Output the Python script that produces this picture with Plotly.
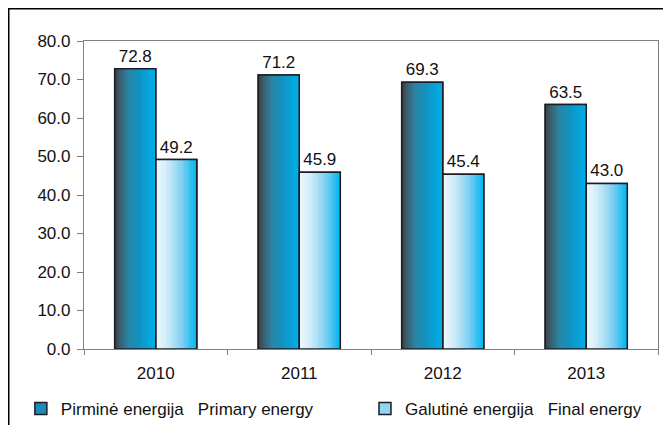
import plotly.graph_objects as go

years = ["2010", "2011", "2012", "2013"]
primary = [72.8, 71.2, 69.3, 63.5]
final = [49.2, 45.9, 45.4, 43.0]
primary_name = "Pirminė energija\u00a0\u00a0\u00a0Primary energy"
final_name = "Galutinė energija\u00a0\u00a0\u00a0Final energy"

BAR_W = 0.286
N = 24
FONT = "Liberation Sans, Arial, Helvetica, sans-serif"

def hex2rgb(h):
    h = h.lstrip("#")
    return tuple(int(h[i:i + 2], 16) for i in (0, 2, 4))

def grad(stops, t):
    for (t0, c0), (t1, c1) in zip(stops, stops[1:]):
        if t0 <= t <= t1:
            f = (t - t0) / (t1 - t0) if t1 > t0 else 0
            a, b = hex2rgb(c0), hex2rgb(c1)
            return "rgb(%d,%d,%d)" % tuple(round(a[k] + (b[k] - a[k]) * f) for k in range(3))
    return stops[-1][1]

prim_stops = [(0.0, "#3a3c40"), (0.15, "#3b6070"), (0.35, "#2a84a4"), (0.6, "#1193c2"), (1.0, "#00aee8")]
fin_stops = [(0.0, "#f2fafe"), (0.3, "#cdebf8"), (0.65, "#7fd0f2"), (1.0, "#00b7ef")]

fig = go.Figure()

# legend / base traces
fig.add_trace(go.Bar(x=years, y=primary, name=primary_name, width=BAR_W, offset=-BAR_W,
                     marker=dict(color="#1a8cb8", line=dict(color="#1c1c24", width=1.5)),
                     showlegend=True, legend="legend", hoverinfo="skip"))
fig.add_trace(go.Bar(x=years, y=final, name=final_name, width=BAR_W, offset=0,
                     marker=dict(color="#8fd6f3", line=dict(color="#1c1c24", width=1.5)),
                     showlegend=True, legend="legend2", hoverinfo="skip"))

sw = BAR_W / N
for vals, stops, base in [(primary, prim_stops, -BAR_W), (final, fin_stops, 0.0)]:
    for i in range(N):
        t = (i + 0.5) / N
        fig.add_trace(go.Bar(x=years, y=vals, width=sw * 1.05, offset=base + i * sw,
                             marker=dict(color=grad(stops, t), line=dict(width=0)),
                             showlegend=False, hoverinfo="skip"))

# outlines + labels
for vals, base in [(primary, -BAR_W), (final, 0.0)]:
    fig.add_trace(go.Bar(x=years, y=vals, width=BAR_W, offset=base,
                         marker=dict(color="rgba(0,0,0,0)", line=dict(color="#1c1c24", width=1.5)),
                         text=["%.1f" % v for v in vals], textposition="outside",
                         textfont=dict(family=FONT, size=17, color="#111"),
                         cliponaxis=False, showlegend=False))

leg_common = dict(orientation="h", xanchor="left", y=-0.195, yanchor="middle",
                  font=dict(family=FONT, size=17, color="#111"), bgcolor="rgba(0,0,0,0)")

fig.update_layout(
    width=663, height=417,
    margin=dict(l=76, r=13, t=33, b=76, autoexpand=False),
    barmode="overlay",
    paper_bgcolor="white", plot_bgcolor="white",
    font=dict(family=FONT, size=17, color="#111"),
    showlegend=True,
    legend=dict(x=-0.110, **leg_common),
    legend2=dict(x=0.4895, **leg_common),
    xaxis=dict(type="category", showline=True, linecolor="#808080", linewidth=1.2, mirror=True,
               ticks="outside", tickson="boundaries", ticklen=5, tickcolor="#808080",
               ticklabelstandoff=8,
               showgrid=False, tickfont=dict(size=17)),
    yaxis=dict(range=[0, 80], dtick=10, tickformat=".1f", showline=True, linecolor="#808080",
               linewidth=1.2, mirror=True, ticks="outside", ticklen=6, tickcolor="#808080",
               ticklabelstandoff=3,
               showgrid=False, zeroline=False, tickfont=dict(size=17)),
    shapes=[dict(type="rect", xref="paper", yref="paper", x0=-0.1311, x1=1.2, y0=-0.5, y1=1.1047,
                 line=dict(color="black", width=1.5), layer="below")],
)

fig.write_html("out.html")
